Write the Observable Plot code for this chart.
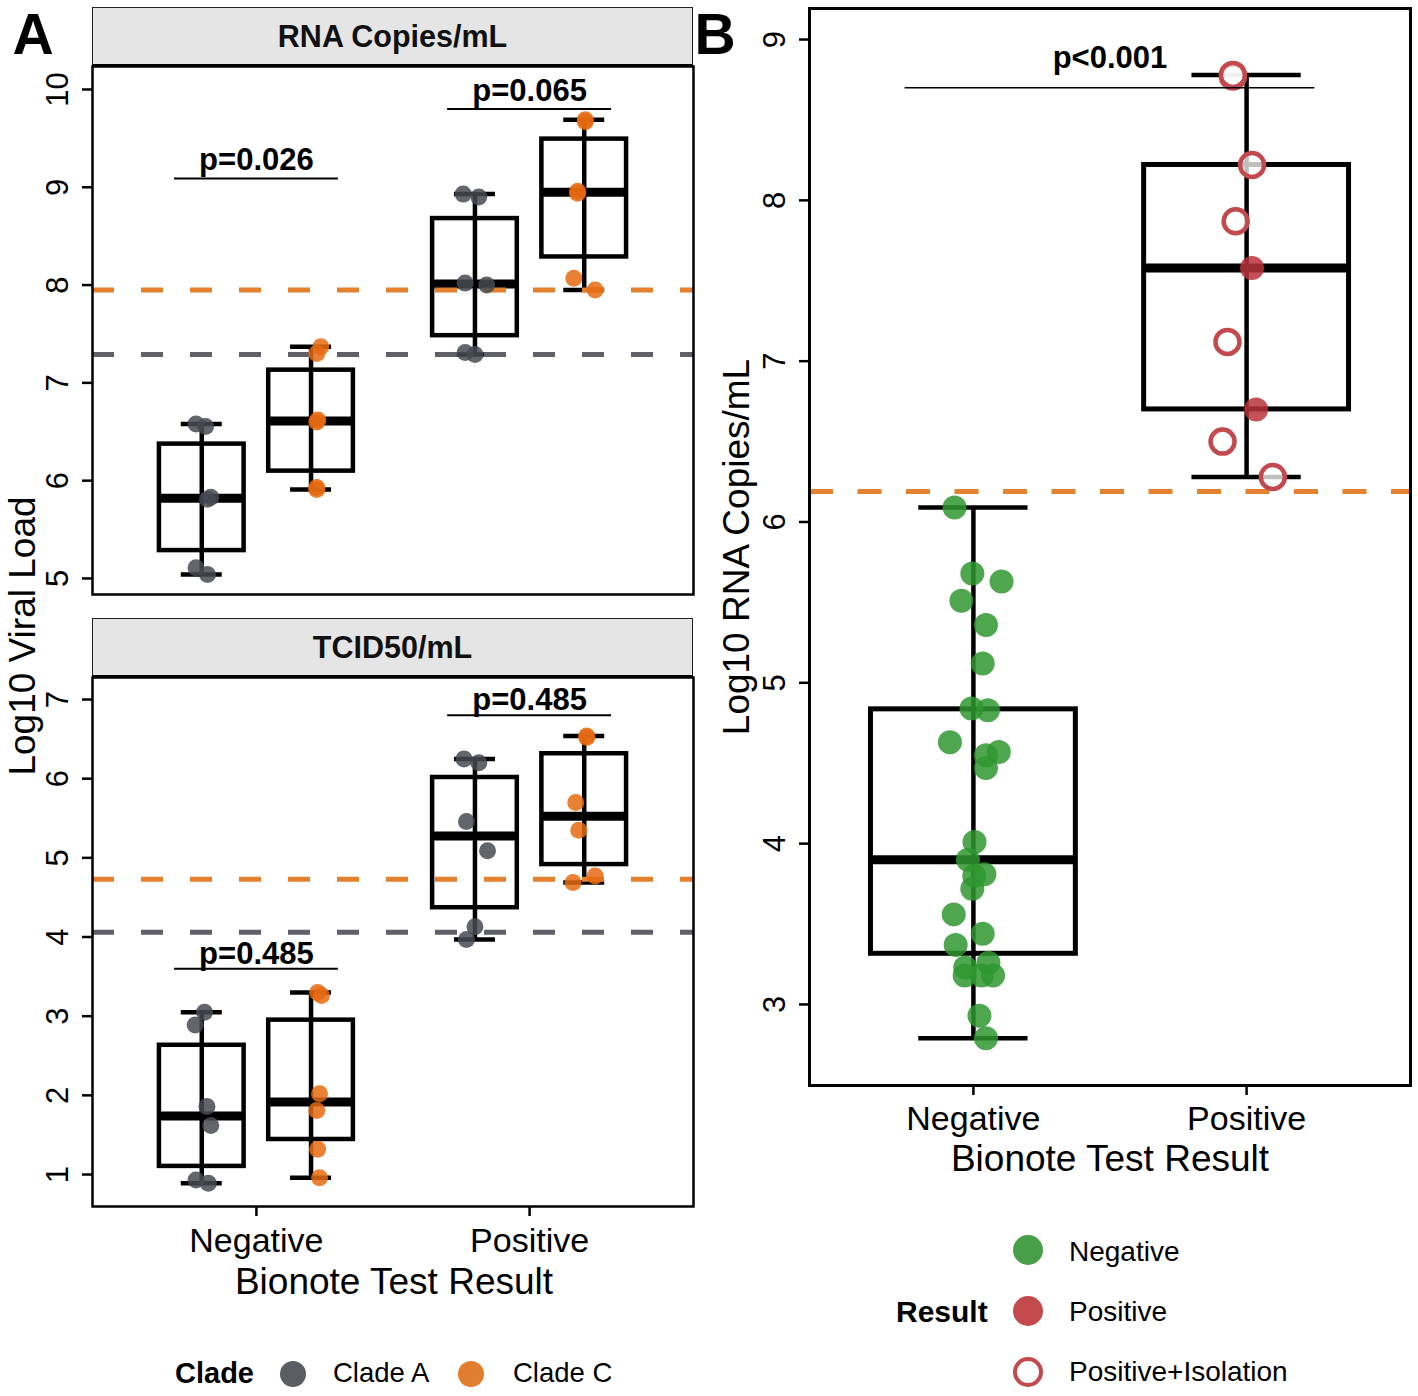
<!DOCTYPE html>
<html><head><meta charset="utf-8">
<script src="https://cdn.jsdelivr.net/npm/d3@7"></script>
<script src="https://cdn.jsdelivr.net/npm/@observablehq/plot@0.6"></script>
<style>
body{margin:0;background:#fff;}
#fig{position:relative;width:1418px;height:1396px;background:#fff;overflow:hidden;font-family:'Liberation Sans',Arial,Helvetica,sans-serif;color:#000;}
.box{position:absolute;}
.c{position:absolute;transform:translate(-50%,-50%);line-height:1;white-space:nowrap;}
.l{position:absolute;transform:translate(0,-50%);line-height:1;white-space:nowrap;}
.strip{position:absolute;box-sizing:border-box;background:#e5e5e5;border:1.5px solid #222;border-bottom:2px solid #000;display:flex;align-items:center;justify-content:center;font-weight:bold;font-size:30.5px;color:#111;}
.dotk{position:absolute;border-radius:50%;box-sizing:border-box;transform:translate(-50%,-50%);}
svg{overflow:visible;}
</style></head>
<body><div id="fig"></div>
<script>
// ---------------- data ----------------
const groups = ["Negative", "Positive"];
const clades = ["Clade A", "Clade C"];
const cladeColors = ["#474a52", "#e56a10"];
const cutoffColors = ["#5f6068", "#e3812f"];

// Panel A, top: log10 RNA copies/mL
const rnaNegCladeA = [5.04, 5.11, 5.81, 5.83, 6.555, 6.58];
const rnaNegCladeC = [5.91, 5.93, 6.60, 6.62, 7.30, 7.37];
const rnaPosCladeA = [7.29, 7.31, 8.00, 8.02, 8.90, 8.93];
const rnaPosCladeC = [7.95, 8.07, 8.94, 8.96, 9.67, 9.69];
// horizontal jitter of each point (x units)
const rnaNegCladeAJitter = [0.021, -0.021, 0.021, 0.033, 0.014, -0.021];
const rnaNegCladeCJitter = [0.021, 0.021, 0.021, 0.025, 0.021, 0.036];
const rnaPosCladeAJitter = [0, -0.036, 0.043, -0.036, 0.014, -0.043];
const rnaPosCladeCJitter = [0.04, -0.038, -0.024, -0.024, 0.004, 0.004];
const rnaCutoffs = [7.29, 7.95];          // Clade A, Clade C
const rnaPValues = ["p=0.026", "p=0.065"]; // Negative, Positive
const rnaPValueY = [9.09, 9.80];

// Panel A, bottom: log10 TCID50/mL
const tcidNegCladeA = [0.89, 0.93, 1.62, 1.86, 2.89, 3.05];
const tcidNegCladeC = [0.96, 1.32, 1.81, 2.02, 3.26, 3.30];
const tcidPosCladeA = [3.97, 4.13, 5.09, 5.46, 6.20, 6.25];
const tcidPosCladeC = [4.69, 4.77, 5.35, 5.70, 6.52, 6.54];
const tcidNegCladeAJitter = [0.024, -0.021, 0.033, 0.019, -0.024, 0.01];
const tcidNegCladeCJitter = [0.031, 0.024, 0.021, 0.031, 0.038, 0.024];
const tcidPosCladeAJitter = [-0.031, 0, 0.046, -0.031, 0.014, -0.04];
const tcidPosCladeCJitter = [-0.041, 0.04, -0.02, -0.031, 0.009, 0.009];
const tcidCutoffs = [4.06, 4.73];
const tcidPValues = ["p=0.485", "p=0.485"];
const tcidPValueY = [3.60, 6.80];

// Panel B: log10 RNA copies/mL by Bionote result
const bNegative = [2.79, 2.93, 3.18, 3.18, 3.18, 3.23, 3.26, 3.37, 3.44, 3.56, 3.72, 3.80, 3.81, 3.90,
  4.01, 4.47, 4.55, 4.57, 4.63, 4.83, 4.84, 5.12, 5.36, 5.51, 5.63, 5.68, 6.09];
const bNegativeJitter = [0.046, 0.022, -0.032, 0.030, 0.072, -0.030, 0.055, -0.065, 0.034, -0.072, -0.004, 0.003, 0.040, -0.020,
  0.004, 0.046, 0.046, 0.093, -0.086, 0.053, -0.007, 0.034, 0.046, -0.044, 0.103, -0.004, -0.069];
const bPositive = [6.28, 6.50, 6.70, 7.12, 7.58, 7.87, 8.22, 8.77, 8.78];
const bPositiveJitter = [0.096, -0.088, 0.035, -0.07, 0.02, -0.04, 0.02, -0.05, -0.05];
const bPositiveIsolation = [true, true, false, true, false, true, true, true, true];
const bCutoff = 6.19;
const bPValue = "p<0.001";
const bPValueY = 8.70;

// ---------------- helpers ----------------
const FONT = "'Liberation Sans', Arial, Helvetica, sans-serif";
function boxStats(vals) {
  const s = vals.slice().sort(d3.ascending);
  const q1 = d3.quantile(s, 0.25), med = d3.quantile(s, 0.5), q3 = d3.quantile(s, 0.75);
  const iqr = q3 - q1;
  const lo = d3.min(s.filter(v => v >= q1 - 1.5 * iqr));
  const hi = d3.max(s.filter(v => v <= q3 + 1.5 * iqr));
  return {q1, med, q3, lo, hi};
}
const fig = document.getElementById("fig");
function place(node, left, top) {
  const d = document.createElement("div");
  d.className = "box";
  d.style.left = left + "px"; d.style.top = top + "px";
  d.appendChild(node); fig.appendChild(d);
}
function html(cls, text, x, y, css) {
  const d = document.createElement("div");
  d.className = cls; d.textContent = text;
  d.style.left = x + "px"; d.style.top = y + "px";
  Object.assign(d.style, css || {});
  fig.appendChild(d);
  return d;
}

function panelA(sets, cutoffs, pvals, pY, opt) {
  const boxes = sets.map(s => Object.assign(boxStats(s.vals), {x: s.g + 1 + (s.c ? 0.2 : -0.2)}));
  const pts = sets.flatMap(s => s.vals.map((v, i) => ({x: s.g + 1 + (s.c ? 0.2 : -0.2) + s.jit[i], y: v, clade: clades[s.c]})));
  const sig = pvals.map((t, i) => ({x1: i + 1 - 0.3, x2: i + 1 + 0.3, x: i + 1, y: pY[i], t}));
  return Plot.plot({
    width: 700, height: opt.height,
    marginLeft: 92, marginRight: 7, marginTop: opt.mt, marginBottom: opt.mb,
    style: {fontFamily: FONT, background: "transparent", color: "#000", overflow: "visible"},
    x: {domain: [0.4, 2.6]},
    y: {domain: opt.yDomain},
    color: {domain: clades, range: cladeColors},
    marks: [
      Plot.ruleX(boxes, {x: "x", y1: "lo", y2: "hi", stroke: "#000", strokeWidth: 4.5}),
      Plot.ruleY(boxes, {y: "lo", x1: d => d.x - 0.075, x2: d => d.x + 0.075, stroke: "#000", strokeWidth: 4.5}),
      Plot.ruleY(boxes, {y: "hi", x1: d => d.x - 0.075, x2: d => d.x + 0.075, stroke: "#000", strokeWidth: 4.5}),
      Plot.rect(boxes, {x1: d => d.x - 0.155, x2: d => d.x + 0.155, y1: "q1", y2: "q3", fill: "none", stroke: "#000", strokeWidth: 4.5}),
      Plot.ruleY(boxes, {y: "med", x1: d => d.x - 0.155, x2: d => d.x + 0.155, stroke: "#000", strokeWidth: 9}),
      Plot.ruleY([cutoffs[0]], {stroke: cutoffColors[0], strokeWidth: 5, strokeDasharray: "22 27"}),
      Plot.ruleY([cutoffs[1]], {stroke: cutoffColors[1], strokeWidth: 5, strokeDasharray: "22 27"}),
      Plot.dot(pts, {x: "x", y: "y", fill: "clade", r: 8.5, fillOpacity: 0.85}),
      Plot.ruleY(sig, {y: "y", x1: "x1", x2: "x2", stroke: "#000", strokeWidth: 2}),
      Plot.text(sig, {x: "x", y: "y", text: "t", dy: opt.pdy, lineAnchor: "bottom", fontSize: 31, fontWeight: "bold", fill: "#000"}),
      Plot.frame({stroke: "#000", strokeWidth: 2.5}),
      Plot.axisY({ticks: opt.yTicks, tickSize: 10, tickRotate: -90, tickPadding: 15, fontSize: 31, strokeWidth: 2.5, label: null, tickFormat: d => String(d)}),
      opt.showX
        ? Plot.axisX({ticks: [1, 2], tickSize: 10, tickPadding: 11, fontSize: 34, strokeWidth: 2.5, label: null, tickFormat: d => groups[d - 1]})
        : Plot.axisX({ticks: [], label: null})
    ]
  });
}

// ---------------- panel A top ----------------
const a1 = panelA([
  {g: 0, c: 0, vals: rnaNegCladeA, jit: rnaNegCladeAJitter},
  {g: 0, c: 1, vals: rnaNegCladeC, jit: rnaNegCladeCJitter},
  {g: 1, c: 0, vals: rnaPosCladeA, jit: rnaPosCladeAJitter},
  {g: 1, c: 1, vals: rnaPosCladeC, jit: rnaPosCladeCJitter}
], rnaCutoffs, rnaPValues, rnaPValueY,
  {height: 600, mt: 66, mb: 6, yDomain: [4.836, 10.235], yTicks: [5, 6, 7, 8, 9, 10], showX: false, pdy: -8});
place(a1, 0, 0);

// ---------------- panel A bottom ----------------
const a2 = panelA([
  {g: 0, c: 0, vals: tcidNegCladeA, jit: tcidNegCladeAJitter},
  {g: 0, c: 1, vals: tcidNegCladeC, jit: tcidNegCladeCJitter},
  {g: 1, c: 0, vals: tcidPosCladeA, jit: tcidPosCladeAJitter},
  {g: 1, c: 1, vals: tcidPosCladeC, jit: tcidPosCladeCJitter}
], tcidCutoffs, tcidPValues, tcidPValueY,
  {height: 700, mt: 59, mb: 112, yDomain: [0.596, 7.278], yTicks: [1, 2, 3, 4, 5, 6, 7], showX: true, pdy: -5});
place(a2, 0, 618);

// ---------------- panel B ----------------
const bSets = [
  {x: 1, vals: bNegative},
  {x: 2, vals: bPositive}
];
const bBoxes = bSets.map(s => Object.assign(boxStats(s.vals), {x: s.x}));
const bNegPts = bNegative.map((v, i) => ({x: 1 + bNegativeJitter[i], y: v}));
const bPosPts = bPositive.map((v, i) => ({x: 2 + bPositiveJitter[i], y: v, iso: bPositiveIsolation[i]}));
const bSig = [{x1: 0.75, x2: 2.25, x: 1.5, y: bPValueY, t: bPValue}];
const b = Plot.plot({
  width: 718, height: 1200,
  marginLeft: 109, marginRight: 8, marginTop: 8, marginBottom: 115,
  style: {fontFamily: FONT, background: "transparent", color: "#000", overflow: "visible"},
  x: {domain: [0.4, 2.6]},
  y: {domain: [2.496, 9.193]},
  marks: [
    Plot.ruleX(bBoxes, {x: "x", y1: "lo", y2: "hi", stroke: "#000", strokeWidth: 4.5}),
    Plot.ruleY(bBoxes, {y: "lo", x1: d => d.x - 0.2, x2: d => d.x + 0.2, stroke: "#000", strokeWidth: 4.5}),
    Plot.ruleY(bBoxes, {y: "hi", x1: d => d.x - 0.2, x2: d => d.x + 0.2, stroke: "#000", strokeWidth: 4.5}),
    Plot.rect(bBoxes, {x1: d => d.x - 0.375, x2: d => d.x + 0.375, y1: "q1", y2: "q3", fill: "none", stroke: "#000", strokeWidth: 5}),
    Plot.ruleY(bBoxes, {y: "med", x1: d => d.x - 0.375, x2: d => d.x + 0.375, stroke: "#000", strokeWidth: 9}),
    Plot.ruleY([bCutoff], {stroke: "#e3822f", strokeWidth: 5, strokeDasharray: "24 24.5"}),
    Plot.dot(bNegPts, {x: "x", y: "y", r: 12, fill: "#2f962f", fillOpacity: 0.85}),
    Plot.dot(bPosPts.filter(d => !d.iso), {x: "x", y: "y", r: 12, fill: "#b8333a", fillOpacity: 0.85}),
    Plot.dot(bPosPts.filter(d => d.iso), {x: "x", y: "y", r: 12, fill: "#fff", fillOpacity: 0.75, stroke: "#c24a4e", strokeWidth: 4.5}),
    Plot.ruleY(bSig, {y: "y", x1: "x1", x2: "x2", stroke: "#000", strokeWidth: 1.4}),
    Plot.text(bSig, {x: "x", y: "y", text: "t", dy: -20, lineAnchor: "bottom", fontSize: 31, fontWeight: "bold", fill: "#000"}),
    Plot.frame({stroke: "#000", strokeWidth: 3}),
    Plot.axisY({ticks: [3, 4, 5, 6, 7, 8, 9], tickSize: 10, tickRotate: -90, tickPadding: 15, fontSize: 31, strokeWidth: 2.5, label: null, tickFormat: d => String(d)}),
    Plot.axisX({ticks: [1, 2], tickSize: 10, tickPadding: 10, fontSize: 34, strokeWidth: 2.5, label: null, tickFormat: d => groups[d - 1]})
  ]
});
place(b, 700, 0);

// ---------------- text, strips, legends ----------------
const s1 = document.createElement("div"); s1.className = "strip"; s1.textContent = "RNA Copies/mL";
Object.assign(s1.style, {left: "92px", top: "7px", width: "601px", height: "59px"}); fig.appendChild(s1);
const s2 = document.createElement("div"); s2.className = "strip"; s2.textContent = "TCID50/mL";
Object.assign(s2.style, {left: "92px", top: "618px", width: "601px", height: "59px"}); fig.appendChild(s2);

html("c", "A", 33, 34, {fontSize: "57px", fontWeight: "bold"});
html("c", "B", 715, 34, {fontSize: "57px", fontWeight: "bold"});
html("c", "Log10 Viral Load", 22, 636, {fontSize: "37px", transform: "translate(-50%,-50%) rotate(-90deg)"});
html("c", "Bionote Test Result", 394, 1281, {fontSize: "37px"});
html("c", "Log10 RNA Copies/mL", 736, 547, {fontSize: "37px", transform: "translate(-50%,-50%) rotate(-90deg)"});
html("c", "Bionote Test Result", 1110, 1158, {fontSize: "37px"});

function key(x, y, r, fill, stroke) {
  const d = document.createElement("div"); d.className = "dotk";
  Object.assign(d.style, {left: x + "px", top: y + "px", width: 2 * r + "px", height: 2 * r + "px",
    background: fill, border: stroke ? "4.5px solid " + stroke : "none"});
  fig.appendChild(d);
}
// Clade legend
html("l", "Clade", 175, 1373, {fontSize: "29px", fontWeight: "bold"});
key(293, 1374, 13, "#5b5d64");
html("l", clades[0], 333, 1373, {fontSize: "27.5px"});
key(471, 1374, 13, "#e37d2e");
html("l", clades[1], 513, 1373, {fontSize: "27.5px"});
// Result legend
const resultLabels = ["Negative", "Positive", "Positive+Isolation"];
html("l", "Result", 896, 1312, {fontSize: "30px", fontWeight: "bold"});
key(1028, 1250, 15, "#47a047");
key(1028, 1311, 15, "#c4494d");
key(1028, 1372, 15, "#fff", "#c4494d");
html("l", resultLabels[0], 1069, 1252, {fontSize: "28px"});
html("l", resultLabels[1], 1069, 1312, {fontSize: "28px"});
html("l", resultLabels[2], 1069, 1372, {fontSize: "28px"});
</script></body></html>
